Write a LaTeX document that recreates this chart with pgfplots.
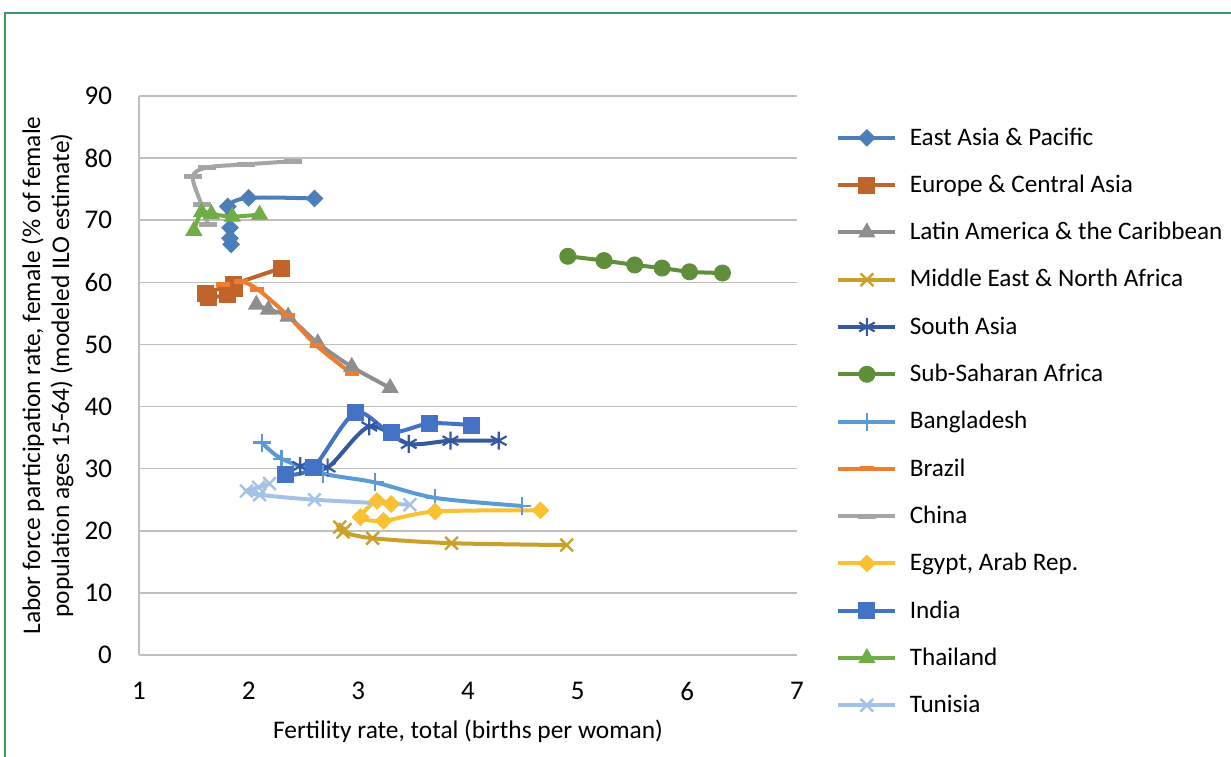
\documentclass[border=0pt]{standalone}
\usepackage{pgfplots}
\pgfplotsset{compat=1.18}
\usepackage{fontspec}
\setmainfont{Carlito}
\usetikzlibrary{plotmarks}
\definecolor{eap}{HTML}{4C7FBA}
\definecolor{eca}{HTML}{C1642C}
\definecolor{lac}{HTML}{8E8E8E}
\definecolor{mena}{HTML}{C9A02A}
\definecolor{sa}{HTML}{35599F}
\definecolor{ssa}{HTML}{5F8F3B}
\definecolor{bgd}{HTML}{5B9BD5}
\definecolor{bra}{HTML}{ED7D31}
\definecolor{chn}{HTML}{A5A5A5}
\definecolor{egy}{HTML}{F9C031}
\definecolor{ind}{HTML}{4472C4}
\definecolor{tha}{HTML}{70AD47}
\definecolor{tun}{HTML}{A4C2E6}
\definecolor{framegreen}{HTML}{3E9B5E}
\definecolor{gridgray}{HTML}{BFBFBF}
\begin{document}
\begin{tikzpicture}
\useasboundingbox (0,0) rectangle (615.5pt,378pt);
\draw[framegreen, line width=1.2pt] (2.5pt,-2pt) -- (2.5pt,371.5pt) -- (618pt,371.5pt);
\begin{axis}[
  at={(69.5pt,50.5pt)}, anchor=south west,
  scale only axis, width=329pt, height=279.5pt,
  xmin=1, xmax=7, ymin=0, ymax=90,
  xtick={1,2,3,4,5,6,7}, ytick={0,10,...,90},
  axis x line=bottom, axis y line=left,
  axis line style={gridgray, line width=0.8pt, -},
  ymajorgrids, grid style={gridgray, line width=0.8pt},
  major tick length=0pt,
  tick label style={font=\fontsize{13.5}{16}\selectfont, /pgf/number format/assume math mode=true},
  xticklabel style={yshift=-10pt},
  yticklabel style={xshift=-10pt},
  xlabel={Fertility rate, total (births per woman)},
  xlabel style={at={(axis description cs:0.5,0)}, anchor=center, yshift=-38pt, font=\fontsize{12.7}{15}\selectfont},
  ylabel={Labor force participation rate, female (\% of female\\population ages 15-64) (modeled ILO estimate)},
  ylabel style={at={(axis description cs:0,0.5)}, anchor=center, yshift=45.75pt, align=center, font=\fontsize{12.7}{14.5}\selectfont},
  legend style={at={(axis description cs:1,0.4177)}, anchor=west, xshift=19.5pt, draw=none, fill=none,
    font=\fontsize{12.6}{15}\selectfont, row sep=9.4pt, inner xsep=0pt, inner ysep=0pt,
    /tikz/every node/.append style={inner xsep=6.2pt}},
  legend cell align=left,
  legend image code/.code={\draw[mark repeat=2, mark phase=2, #1] plot coordinates {(0pt,0pt) (14.25pt,0pt) (28.5pt,0pt)};},
  every axis plot/.append style={line width=2pt, smooth},
]
\addplot[eap, mark=square*, mark size=2.9pt, mark options={solid, line width=0.5pt, rotate=45}] coordinates {
(2.60,73.5) (2.00,73.6) (1.81,72.2) (1.83,68.8) (1.83,67.1) (1.84,66.1)};
\addlegendentry{East Asia \& Pacific}
\addplot[eca, mark=square*, mark size=4pt, mark options={solid, line width=0.5pt}] coordinates {
(2.30,62.3) (1.86,59.7) (1.61,58.2) (1.63,57.5) (1.81,58.1) (1.87,59.0)};
\addlegendentry{Europe \& Central Asia}
\addplot[lac, mark=triangle*, mark size=4.5pt, mark options={solid, line width=0.5pt}] coordinates {
(3.29,43.0) (2.94,46.4) (2.63,50.2) (2.36,54.5) (2.18,55.6) (2.07,56.4)};
\addlegendentry{Latin America \& the Caribbean}
\addplot[mena, mark=x, mark size=4.5pt, mark options={solid, line width=1.2pt}] coordinates {
(4.90,17.7) (3.85,18.0) (3.13,18.8) (2.86,19.8) (2.83,20.6) (2.88,20.2)};
\addlegendentry{Middle East \& North Africa}
\addplot[sa, mark=asterisk, mark size=4.5pt, mark options={solid, line width=1.1pt}] coordinates {
(4.28,34.5) (3.84,34.5) (3.46,34.0) (3.10,36.8) (2.72,30.2) (2.47,30.4)};
\addlegendentry{South Asia}
\addplot[ssa, mark=*, mark size=4pt, mark options={solid, line width=0.5pt}] coordinates {
(6.32,61.5) (6.02,61.7) (5.77,62.3) (5.52,62.8) (5.24,63.5) (4.91,64.2)};
\addlegendentry{Sub-Saharan Africa}
\addplot[bgd, mark=+, mark size=4.5pt, mark options={solid, line width=1.1pt}] coordinates {
(4.49,24.0) (3.70,25.3) (3.15,27.8) (2.68,29.2) (2.30,31.6) (2.12,34.2)};
\addlegendentry{Bangladesh}
\addplot[bra, mark=-, mark size=3.5pt, mark options={solid, line width=2.6pt}] coordinates {
(2.94,45.3) (2.62,49.8) (2.36,54.6) (2.08,58.9) (1.93,60.1) (1.77,59.6)};
\addlegendentry{Brazil}
\addplot[chn, mark=-, mark size=4.5pt, mark options={solid, line width=2.6pt}] coordinates {
(2.40,79.5) (1.98,79.0) (1.62,78.5) (1.49,77.0) (1.57,72.5) (1.63,69.3)};
\addlegendentry{China}
\addplot[egy, mark=square*, mark size=2.9pt, mark options={solid, line width=0.5pt, rotate=45}] coordinates {
(4.66,23.3) (3.70,23.1) (3.23,21.6) (3.02,22.2) (3.17,24.8) (3.30,24.3)};
\addlegendentry{Egypt, Arab Rep.}
\addplot[ind, mark=square*, mark size=4pt, mark options={solid, line width=0.5pt}] coordinates {
(4.03,37.0) (3.65,37.3) (3.30,35.9) (2.97,39.0) (2.59,30.2) (2.34,29.0)};
\addlegendentry{India}
\addplot[tha, mark=triangle*, mark size=4.5pt, mark options={solid, line width=0.5pt}] coordinates {
(2.10,70.9) (1.85,70.6) (1.66,71.0) (1.57,71.3) (1.50,68.3)};
\addlegendentry{Thailand}
\addplot[tun, mark=x, mark size=4.5pt, mark options={solid, line width=1.2pt}] coordinates {
(3.47,24.2) (2.60,25.0) (2.10,25.8) (1.98,26.4) (2.09,27.0) (2.19,27.6)};
\addlegendentry{Tunisia}
\end{axis}
\end{tikzpicture}
\end{document}
